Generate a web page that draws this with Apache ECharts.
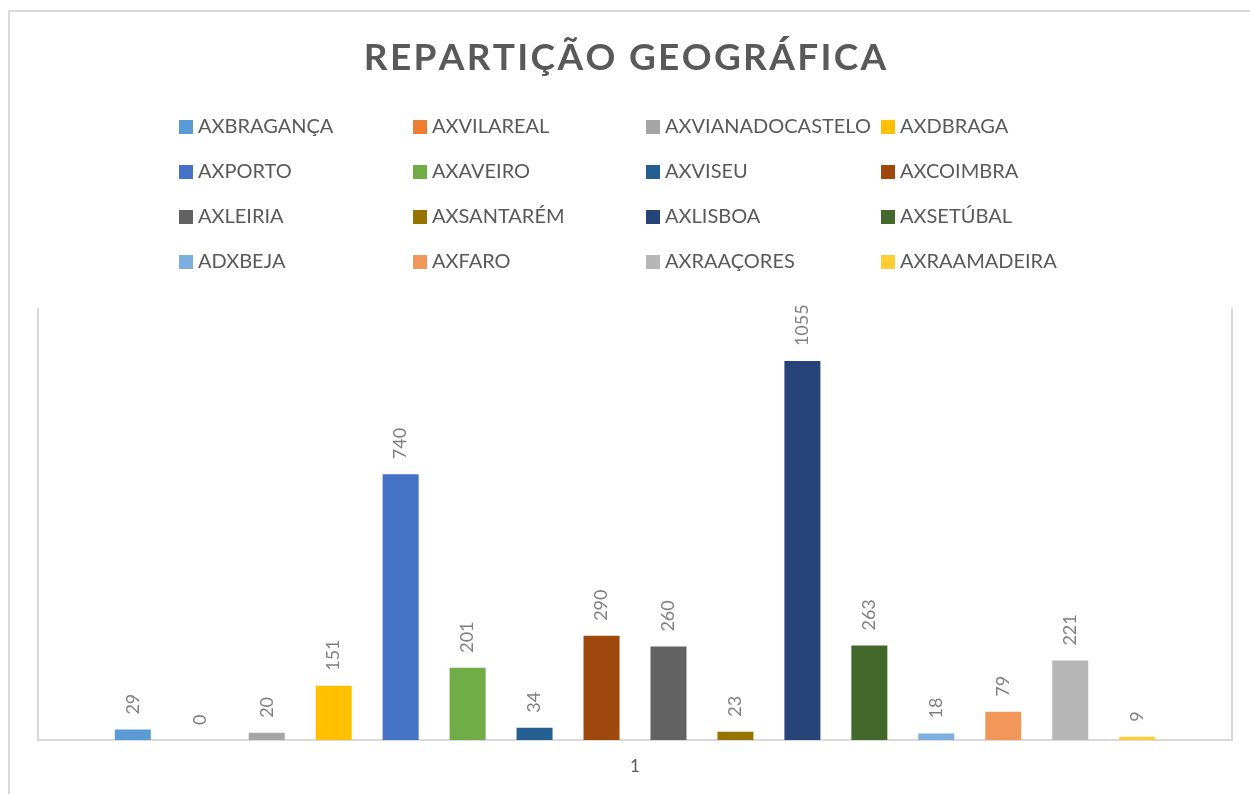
<!DOCTYPE html>
<html>
<head>
<meta charset="utf-8">
<title>Repartição Geográfica</title>
<script src="https://cdn.jsdelivr.net/npm/echarts@6/dist/echarts.min.js"></script>
<style>
	html, body { margin: 0; padding: 0; background: #fff; }
	#chartDiv { width: 1250px; height: 794px; }
</style>
</head>
<body>
<div id="chartDiv"></div>
<script>
var categories = ['1'];
var regionNames = [
	'AXBRAGANÇA', 'AXVILAREAL', 'AXVIANADOCASTELO', 'AXDBRAGA',
	'AXPORTO', 'AXAVEIRO', 'AXVISEU', 'AXCOIMBRA',
	'AXLEIRIA', 'AXSANTARÉM', 'AXLISBOA', 'AXSETÚBAL',
	'ADXBEJA', 'AXFARO', 'AXRAAÇORES', 'AXRAAMADEIRA'
];
var regionValues = [29, 0, 20, 151, 740, 201, 34, 290, 260, 23, 1055, 263, 18, 79, 221, 9];
var regionColors = [
	'#5B9BD5', '#ED7D31', '#A5A5A5', '#FFC000',
	'#4472C4', '#70AD47', '#255E91', '#9E480E',
	'#636363', '#997300', '#264478', '#43682B',
	'#7CAFDD', '#F1975A', '#B7B7B7', '#FFCD33'
];
var titleText = 'REPARTIÇÃO GEOGRÁFICA';

var textColor = '#595959';
var lineColor = '#d9d9d9';
var fontName = 'Lato, Carlito, Calibri, sans-serif';

// spaced-out title like the Excel one (hair space between letters)
function spaced(s) {
	return s.split('').join('\u200A');
}

var chart = echarts.init(document.getElementById('chartDiv'));

var series = [];
for (var i = 0; i < regionNames.length; i++) {
	series.push({
		name: regionNames[i],
		type: 'bar',
		data: [regionValues[i]],
		barWidth: 36,
		barGap: '86%',
		itemStyle: {
			color: regionColors[i]
		},
		label: {
			show: true,
			position: 'top',
			rotate: 90,
			align: 'left',
			verticalAlign: 'middle',
			distance: 15,
			color: '#7f7f7f',
			fontSize: 18,
			fontFamily: fontName
		},
		animation: false
	});
}

// four legend columns, Excel fills them row by row
var legendLefts = [174, 408, 641, 876];
var legends = [];
for (var c = 0; c < 4; c++) {
	var items = [];
	for (var r = 0; r < 4; r++) {
		items.push(regionNames[r * 4 + c]);
	}
	legends.push({
		data: items,
		orient: 'vertical',
		left: legendLefts[c],
		top: 112,
		itemWidth: 14,
		itemHeight: 14,
		itemGap: 25,
		icon: 'rect',
		selectedMode: false,
		textStyle: {
			color: textColor,
			fontSize: 20,
			lineHeight: 20,
			fontFamily: fontName
		}
	});
}

var option = {
	backgroundColor: '#fff',
	title: {
		text: spaced(titleText),
		left: 'center',
		top: 35,
		textStyle: {
			color: textColor,
			fontSize: 37,
			fontWeight: 'bold',
			fontFamily: fontName
		}
	},
	legend: legends,
	grid: {
		left: 38,
		right: 18,
		top: 309,
		bottom: 54
	},
	xAxis: {
		type: 'category',
		data: categories,
		axisLine: {
			lineStyle: { color: lineColor, width: 2 }
		},
		axisTick: { show: false },
		axisLabel: {
			color: textColor,
			fontSize: 17,
			margin: 18,
			fontFamily: fontName
		}
	},
	yAxis: [
		{
			type: 'value',
			min: 0,
			max: 1200,
			position: 'left',
			splitLine: { show: false },
			axisLabel: { show: false },
			axisTick: { show: false },
			axisLine: { show: true, lineStyle: { color: lineColor, width: 2 } }
		},
		{
			type: 'value',
			min: 0,
			max: 1200,
			position: 'right',
			splitLine: { show: false },
			axisLabel: { show: false },
			axisTick: { show: false },
			axisLine: { show: true, lineStyle: { color: lineColor, width: 2 } }
		}
	],
	graphic: [
		{
			type: 'rect',
			shape: { x: 9, y: 11, width: 1400, height: 1000 },
			style: { fill: null, stroke: lineColor, lineWidth: 2 },
			silent: true
		}
	],
	series: series
};

chart.setOption(option, true);
</script>
</body>
</html>
